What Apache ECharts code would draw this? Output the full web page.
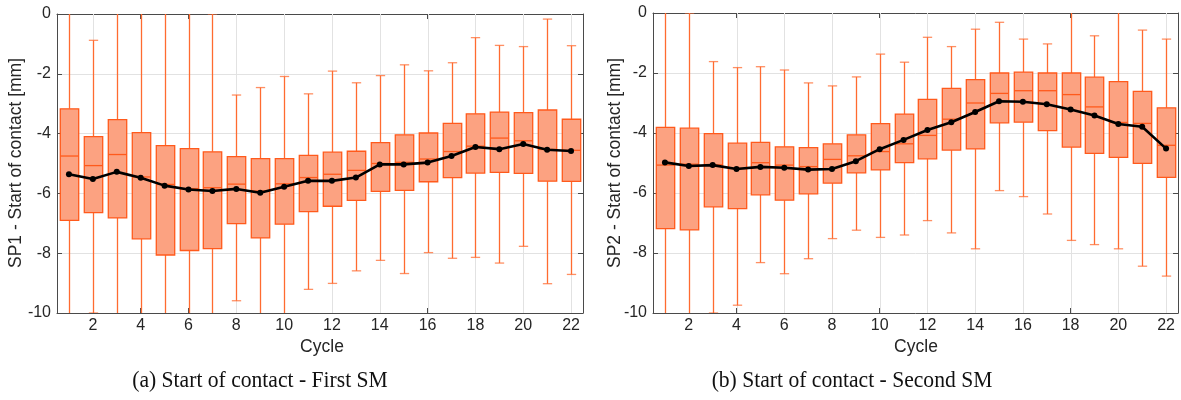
<!DOCTYPE html>
<html>
<head>
<meta charset="utf-8">
<script src="https://cdn.jsdelivr.net/npm/echarts@6/dist/echarts.min.js"></script>
<style>
  html, body { margin: 0; padding: 0; background: #fff; }
  #chart { width: 1181px; height: 400px; }
</style>
</head>
<body>
<div id="chart"></div>
<script>
// Cycle numbers and axis ticks
const cycles = [1,2,3,4,5,6,7,8,9,10,11,12,13,14,15,16,17,18,19,20,21,22];
const xTicks = [2,4,6,8,10,12,14,16,18,20,22];

// SP1 – start of contact [mm], per cycle: whisker ends, quartiles, median, mean
const sp1Max  = [0.6, -0.88, 0.5, 0.7, 0.9, 0.4, 0.0, -2.71, -2.46, -2.09, -2.67, -1.91, -2.30, -2.06, -1.70, -1.90, -1.63, -0.79, -1.05, -1.09, -0.17, -1.06];
const sp1Q3   = [-3.17, -4.10, -3.53, -3.97, -4.40, -4.50, -4.61, -4.77, -4.84, -4.84, -4.73, -4.62, -4.59, -4.30, -4.04, -3.98, -3.66, -3.34, -3.28, -3.30, -3.21, -3.52];
const sp1Med  = [-4.75, -5.07, -4.70, -5.45, -5.70, -5.84, -5.81, -5.69, -5.92, -5.68, -5.47, -5.36, -5.23, -5.00, -4.96, -4.85, -4.60, -4.42, -4.15, -4.24, -4.53, -4.56];
const sp1Q1   = [-6.90, -6.64, -6.82, -7.52, -8.06, -7.91, -7.85, -7.01, -7.49, -7.03, -6.61, -6.43, -6.23, -5.93, -5.90, -5.61, -5.47, -5.32, -5.30, -5.33, -5.59, -5.60];
const sp1Min  = [-11.2, -10.0, -11.0, -10.8, -11.5, -10.9, -10.6, -9.59, -10.4, -10.7, -9.21, -9.01, -8.59, -8.24, -8.68, -7.98, -8.17, -8.14, -8.33, -7.77, -9.02, -8.71];
const sp1Mean = [-5.36, -5.52, -5.28, -5.48, -5.74, -5.87, -5.92, -5.85, -5.98, -5.78, -5.58, -5.58, -5.47, -5.03, -5.03, -4.97, -4.75, -4.45, -4.52, -4.35, -4.54, -4.58];

// SP2 – start of contact [mm]
const sp2Max  = [0.7, 0.0, -1.62, -1.82, -1.79, -1.90, -2.33, -2.43, -2.13, -1.37, -1.64, -0.81, -1.12, -0.54, -0.31, -0.87, -1.03, 0.5, -0.76, 0.4, -0.57, -0.87];
const sp2Q3   = [-3.81, -3.84, -4.02, -4.34, -4.31, -4.46, -4.49, -4.36, -4.06, -3.69, -3.37, -2.88, -2.51, -2.22, -2.00, -1.97, -2.00, -2.00, -2.14, -2.29, -2.61, -3.16];
const sp2Med  = [-5.07, -5.04, -5.06, -5.18, -4.99, -5.07, -5.12, -4.88, -4.76, -4.62, -4.36, -4.08, -3.54, -3.00, -2.68, -2.59, -2.59, -2.72, -3.13, -3.65, -3.68, -4.41];
const sp2Q1   = [-7.19, -7.23, -6.46, -6.52, -6.06, -6.24, -6.03, -5.67, -5.33, -5.23, -4.99, -4.86, -4.57, -4.53, -3.66, -3.64, -3.92, -4.47, -4.68, -4.81, -5.01, -5.48];
const sp2Min  = [-11.0, -10.9, -10.0, -9.74, -8.32, -8.69, -8.19, -7.52, -7.24, -7.48, -7.40, -6.92, -7.33, -7.86, -5.92, -6.12, -6.70, -7.58, -7.72, -7.86, -8.44, -8.77];
const sp2Mean = [-4.98, -5.10, -5.07, -5.20, -5.13, -5.16, -5.22, -5.20, -4.94, -4.54, -4.23, -3.90, -3.64, -3.30, -2.94, -2.96, -3.04, -3.22, -3.42, -3.70, -3.79, -4.52];

const BOX_FILL = '#FCA281';
const BOX_EDGE = '#FF5A1C';
const WHISK = '#FF6B30';
const AXIS_C = '#4a4a4a';
const GRID_C = '#e2e2e2';
const LABEL_C = '#262626';
const SANS = 'Liberation Sans, Arial, sans-serif';
const SERIF = 'Liberation Serif, serif';

function boxRows(mn, q1, md, q3, mx) {
  return cycles.map((c, i) => [c, mn[i], q1[i], md[i], q3[i], mx[i]]);
}
function meanRows(m) {
  return cycles.map((c, i) => [c, m[i]]);
}

// One box-and-whisker glyph per cycle
function renderBox(params, api) {
  const x = api.value(0);
  const lo = api.coord([x, api.value(1)]);
  const q1 = api.coord([x, api.value(2)]);
  const md = api.coord([x, api.value(3)]);
  const q3 = api.coord([x, api.value(4)]);
  const hi = api.coord([x, api.value(5)]);
  const bw = api.size([0.77, 0])[0];
  const cw = api.size([0.39, 0])[0];
  const cx = Math.round(q1[0]) + 0.5;
  const wStyle = { stroke: WHISK, lineWidth: 1.3 };
  const capStyle = { stroke: WHISK, lineWidth: 1.3, opacity: 0.75 };
  return {
    type: 'group',
    children: [
      { type: 'line', shape: { x1: cx, y1: q3[1], x2: cx, y2: hi[1] }, style: wStyle },
      { type: 'line', shape: { x1: cx, y1: q1[1], x2: cx, y2: lo[1] }, style: wStyle },
      { type: 'line', shape: { x1: cx - cw / 2, y1: hi[1], x2: cx + cw / 2, y2: hi[1] }, style: capStyle },
      { type: 'line', shape: { x1: cx - cw / 2, y1: lo[1], x2: cx + cw / 2, y2: lo[1] }, style: capStyle },
      { type: 'rect', shape: { x: cx - bw / 2, y: q3[1], width: bw, height: q1[1] - q3[1] },
        style: { fill: BOX_FILL, stroke: BOX_EDGE, lineWidth: 1.3 } },
      { type: 'line', shape: { x1: cx - bw / 2, y1: md[1], x2: cx + bw / 2, y2: md[1] }, style: { stroke: BOX_EDGE, lineWidth: 1.3 } }
    ]
  };
}

// Vertical grid lines at the x ticks
function renderVGrid(params, api) {
  const v = api.value(0);
  const top = api.coord([v, 0]);
  const bot = api.coord([v, -10]);
  const x = Math.round(top[0]) + 0.5;
  return { type: 'line', shape: { x1: x, y1: top[1], x2: x, y2: bot[1] }, style: { stroke: GRID_C, lineWidth: 1 } };
}

const grids = [
  { left: 57, top: 14, width: 526, height: 299 },
  { left: 653, top: 13, width: 525, height: 300 }
];

function xAxes(g) {
  return [
    { type: 'value', gridIndex: g, position: 'bottom', min: 0.5, max: 22.5,
      axisLine: { show: true, onZero: false, lineStyle: { color: AXIS_C, width: 1 } },
      axisTick: { show: true, inside: true, length: 5, customValues: xTicks, lineStyle: { color: AXIS_C } },
      axisLabel: { show: true, customValues: xTicks, margin: 5, fontSize: 16, color: LABEL_C, fontFamily: SANS },
      splitLine: { show: false } },
    { type: 'value', gridIndex: g, position: 'top', min: 0.5, max: 22.5,
      axisLine: { show: true, onZero: false, lineStyle: { color: AXIS_C, width: 1 } },
      axisTick: { show: true, inside: true, length: 5, customValues: xTicks, lineStyle: { color: AXIS_C } },
      axisLabel: { show: false }, splitLine: { show: false } }
  ];
}
function yAxes(g) {
  return [
    { type: 'value', gridIndex: g, position: 'left', min: -10, max: 0, interval: 2,
      axisLine: { show: true, onZero: false, lineStyle: { color: AXIS_C, width: 1 } },
      axisTick: { show: true, inside: true, length: 5, lineStyle: { color: AXIS_C } },
      axisLabel: { margin: 6, fontSize: 16, color: LABEL_C, fontFamily: SANS },
      splitLine: { show: true, lineStyle: { color: GRID_C, width: 1 } } },
    { type: 'value', gridIndex: g, position: 'right', min: -10, max: 0, interval: 2,
      axisLine: { show: true, onZero: false, lineStyle: { color: AXIS_C, width: 1 } },
      axisTick: { show: true, inside: true, length: 5, lineStyle: { color: AXIS_C } },
      axisLabel: { show: false }, splitLine: { show: false } }
  ];
}

function panelSeries(g, rows, means) {
  return [
    { type: 'custom', xAxisIndex: 2 * g, yAxisIndex: 2 * g, z: 1, silent: true,
      data: xTicks.map(v => [v]), renderItem: renderVGrid },
    { type: 'custom', xAxisIndex: 2 * g, yAxisIndex: 2 * g, z: 2, clip: true, silent: true,
      data: rows, encode: { x: 0, y: [1, 2, 3, 4, 5] }, renderItem: renderBox },
    { type: 'line', xAxisIndex: 2 * g, yAxisIndex: 2 * g, z: 5, silent: true,
      data: means, symbol: 'circle', symbolSize: 6, showSymbol: true,
      itemStyle: { color: '#000' }, lineStyle: { color: '#000', width: 2.6 } }
  ];
}

function sideTitle(x, text) {
  return { type: 'text', x: x, y: 163, rotation: Math.PI / 2,
    style: { text: text, fontSize: 17.5, fontFamily: SANS, fill: LABEL_C, align: 'center', verticalAlign: 'middle' } };
}
function cycleTitle(x) {
  return { type: 'text', x: x, y: 347,
    style: { text: 'Cycle', fontSize: 17.5, fontFamily: SANS, fill: LABEL_C, align: 'center', verticalAlign: 'middle' } };
}
function caption(x, text) {
  return { type: 'text', x: x, y: 381, scaleX: 0.9,
    style: { text: text, fontSize: 24, fontFamily: SERIF, fill: '#111', align: 'center', verticalAlign: 'middle' } };
}

const chart = echarts.init(document.getElementById('chart'), null, { renderer: 'canvas' });
chart.setOption({
  animation: false,
  backgroundColor: '#fff',
  grid: grids,
  xAxis: [...xAxes(0), ...xAxes(1)],
  yAxis: [...yAxes(0), ...yAxes(1)],
  series: [
    ...panelSeries(0, boxRows(sp1Min, sp1Q1, sp1Med, sp1Q3, sp1Max), meanRows(sp1Mean)),
    ...panelSeries(1, boxRows(sp2Min, sp2Q1, sp2Med, sp2Q3, sp2Max), meanRows(sp2Mean))
  ],
  graphic: [
    sideTitle(16, 'SP1 - Start of contact [mm]'),
    sideTitle(615, 'SP2 - Start of contact [mm]'),
    cycleTitle(322),
    cycleTitle(916),
    caption(260, '(a) Start of contact - First SM'),
    caption(852, '(b) Start of contact - Second SM')
  ]
});
</script>
</body>
</html>
